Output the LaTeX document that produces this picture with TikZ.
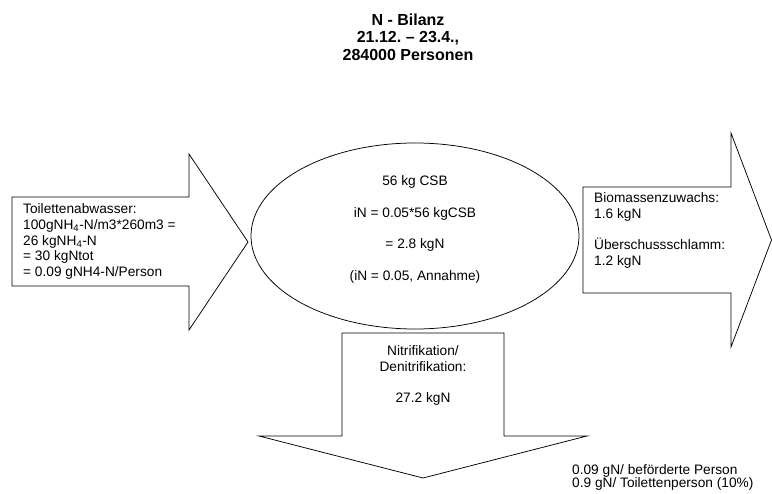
\documentclass[tikz,border=0pt]{standalone}
\usepackage{fontspec}
\setmainfont{Liberation Sans}
\usetikzlibrary{shapes.geometric}
\frenchspacing
\newcommand{\bodyfont}{\fontsize{13.7}{15.8}\selectfont}
\begin{document}
\begin{tikzpicture}[x=1pt, y=-1pt,
    pfeil/.style={draw, line width=0.75pt, line join=miter},
    txt/.style={font=\bodyfont, inner sep=0pt, align=left}]
    \useasboundingbox (0,0) rectangle (772,494);

    % Titel
    \node[font=\fontsize{16}{17.5}\selectfont\bfseries, align=center] (titel) at (408,37) {N - Bilanz\\21.12. – 23.4.,\\284000 Personen};

    % Zulauf (Pfeil links)
    \draw[pfeil] (12,197) -- (189,197) -- (189,154) -- (248,242) -- (189,330) -- (189,286) -- (12,286) -- cycle;
    \node[txt, anchor=west] (zulauf) at (23,241.5) {Toilettenabwasser:\\100gNH\textsubscript{4}-N/m3*260m3 =\\26 kgNH\textsubscript{4}-N\\= 30 kgNtot\\= 0.09 gNH4-N/Person};

    % Reaktor
    \node[pfeil, ellipse, minimum width=328pt, minimum height=186pt, inner sep=0pt] (reaktor) at (415,236) {};
    \node[txt, align=center, font=\fontsize{13.7}{31.6}\selectfont] (bilanz) at (415,229.5) {56 kg CSB\\iN = 0.05*56 kgCSB\\= 2.8 kgN\\(iN = 0.05, Annahme)};

    % Ablauf (Pfeil rechts)
    \draw[pfeil] (583,187) -- (731,187) -- (731,133) -- (771.5,240) -- (731,347) -- (731,293) -- (583,293) -- cycle;
    \node[txt, anchor=west] (ablauf) at (594,230.5) {Biomassenzuwachs:\\1.6 kgN\\[15.8pt]Überschussschlamm:\\1.2 kgN};

    % Luft (Pfeil unten)
    \draw[pfeil] (342,333) -- (504,333) -- (504,436) -- (587,436) -- (423,478) -- (259,436) -- (342,436) -- cycle;
    \node[txt, align=center] (luft) at (423,375.5) {Nitrifikation/\\Denitrifikation:\\[15.8pt]27.2 kgN};

    % Anmerkung
    \node[txt, anchor=west, font=\fontsize{13.7}{13}\selectfont] (notiz) at (572,477) {0.09 gN/ beförderte Person\\0.9 gN/ Toilettenperson (10\%)};
\end{tikzpicture}
\end{document}
